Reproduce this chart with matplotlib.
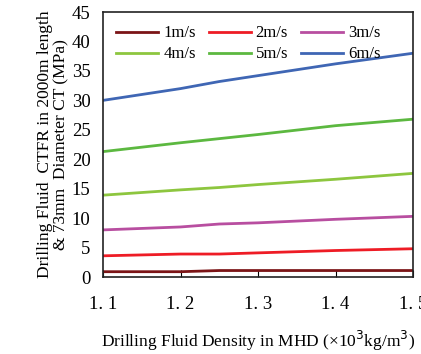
import matplotlib
matplotlib.use('Agg')
import matplotlib.pyplot as plt

density = [1.1, 1.2, 1.25, 1.3, 1.4, 1.5]
labels = ['1m/s', '2m/s', '3m/s', '4m/s', '5m/s', '6m/s']
ctfr_1 = [0.9, 0.9, 1.1, 1.1, 1.1, 1.1]
ctfr_2 = [3.6, 3.9, 3.9, 4.1, 4.5, 4.8]
ctfr_3 = [8.0, 8.5, 9.0, 9.2, 9.8, 10.3]
ctfr_4 = [13.9, 14.8, 15.2, 15.7, 16.6, 17.6]
ctfr_5 = [21.3, 22.8, 23.5, 24.2, 25.7, 26.8]
ctfr_6 = [30.0, 32.0, 33.2, 34.2, 36.2, 38.0]
xtick_labels = ['1. 1', '1. 2', '1. 3', '1. 4', '1. 5']

colours = ['#7b1416', '#ee1c25', '#b84ea0', '#8dc63f', '#5cb840', '#3f66b4']

plt.rcParams['font.family'] = ['Liberation Serif', 'DejaVu Serif']

fig = plt.figure(figsize=(4.21, 3.54), dpi=100)
ax = fig.add_axes([0.245, 0.2175, 0.736, 0.7485])

lines = []
for ys, lab, c in zip([ctfr_1, ctfr_2, ctfr_3, ctfr_4, ctfr_5, ctfr_6], labels, colours):
    ln, = ax.plot(density, ys, color=c, lw=2, label=lab)
    lines.append(ln)

ax.set_xlim(1.1, 1.5)
ax.set_ylim(0, 45)
ax.set_xticks([1.1, 1.2, 1.3, 1.4, 1.5])
ax.set_xticklabels(xtick_labels, fontsize=13.5)
ax.set_yticks(range(0, 46, 5))
ax.tick_params(axis='y', length=0, labelsize=13.5, pad=9)
ax.tick_params(axis='x', direction='in', length=5, pad=14)
for s in ax.spines.values():
    s.set_linewidth(1.2)
    s.set_color('#222222')

ax.set_xlabel('Drilling Fluid Density in MHD (×10$^3$kg/m$^3$)', fontsize=12.5, labelpad=11)
ax.set_ylabel('Drilling Fluid  CTFR in 2000m length\n& 73mm  Diameter CT (MPa)', fontsize=12.5,
              labelpad=2, linespacing=1.0)

# row-wise legend order: 1,2,3 on top, 4,5,6 below
order = [0, 3, 1, 4, 2, 5]
ax.legend([lines[i] for i in order], [labels[i] for i in order], loc='upper left', ncol=3,
          frameon=False, fontsize=12, handlelength=2.5, columnspacing=0.8,
          handletextpad=0.3, labelspacing=0.3, borderaxespad=0.4)

fig.savefig('out.png', dpi=100)
